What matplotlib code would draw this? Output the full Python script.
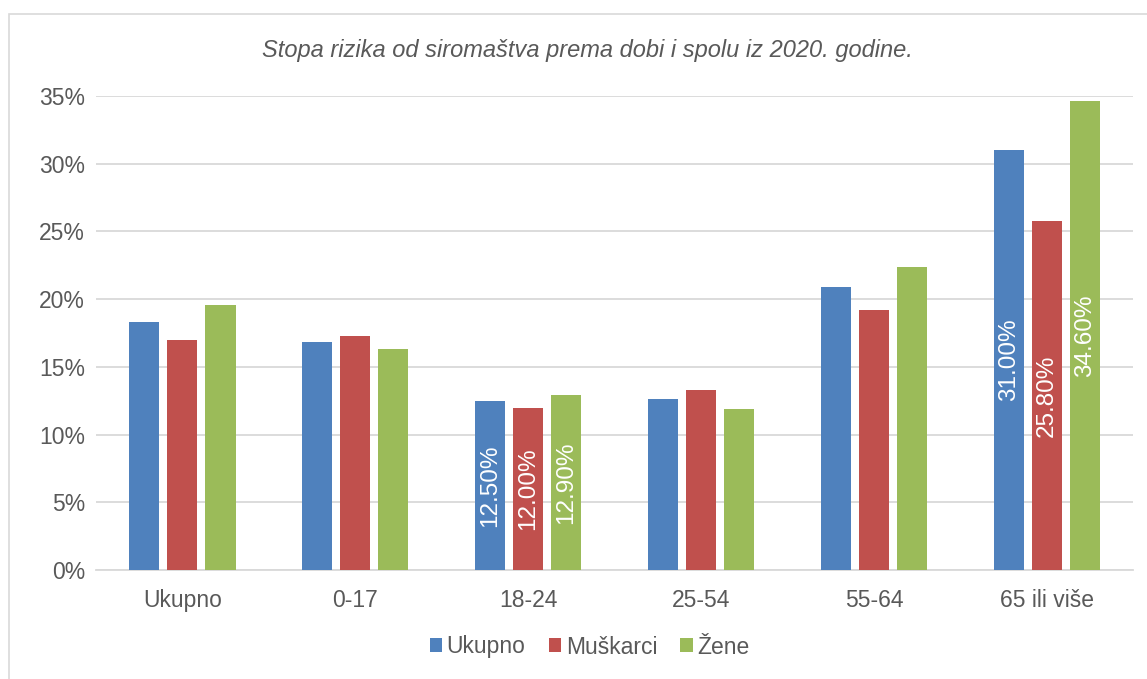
import matplotlib.pyplot as plt
import numpy as np
from matplotlib.patches import Rectangle
from matplotlib.ticker import PercentFormatter

plt.rcParams['font.family'] = ['Liberation Sans', 'DejaVu Sans']

# Data (percent)
categories = ['Ukupno', '0-17', '18-24', '25-54', '55-64', '65 ili više']
series_names = ['Ukupno', 'Muškarci', 'Žene']
ukupno = [18.3, 16.8, 12.5, 12.6, 20.9, 31.0]
muskarci = [17.0, 17.3, 12.0, 13.3, 19.2, 25.8]
zene = [19.6, 16.3, 12.9, 11.9, 22.4, 34.6]
labelled = ['18-24', '65 ili više']  # groups that carry data labels

colors = ['#4F81BD', '#C0504D', '#9BBB59']
text_col = '#595959'
grid_col = '#D9D9D9'

fig = plt.figure(figsize=(11.47, 6.79), dpi=100)
ax = fig.add_axes([0.0837, 0.1605, 0.9043, 0.6981])

# outer chart border
fig.patches.append(Rectangle((9 / 1147, -0.05), 1.2, 1 - 14 / 679 + 0.05,
                             transform=fig.transFigure, fill=False,
                             edgecolor=grid_col, linewidth=1.2))

x = np.arange(len(categories))
width = 0.174
step = 0.22

for i, (vals, name) in enumerate(zip([ukupno, muskarci, zene], series_names)):
    pos = x + (i - 1) * step
    bars = ax.bar(pos, vals, width, color=colors[i], label=name, zorder=3)
    for b, cat, v in zip(bars, categories, vals):
        if cat in labelled:
            ax.text(b.get_x() + b.get_width() / 2, v / 2, f'{v:.2f}%',
                    rotation=90, ha='center', va='center', color='white',
                    fontsize=17.5, zorder=4)

ax.set_ylim(0, 35)
ax.set_xlim(-0.5, len(categories) - 0.5)
ax.set_yticks(np.arange(0, 36, 5))
ax.yaxis.set_major_formatter(PercentFormatter(decimals=0))
ax.set_xticks(x)
ax.set_xticklabels(categories)
ax.tick_params(axis='both', length=0, labelsize=16.5, colors=text_col)
ax.tick_params(axis='x', pad=14)
ax.tick_params(axis='y', pad=8)
ax.grid(axis='y', color=grid_col, linewidth=1.3, zorder=0)
for s in ['top', 'right', 'left']:
    ax.spines[s].set_visible(False)
ax.spines['bottom'].set_color(grid_col)
ax.spines['bottom'].set_linewidth(1.3)

fig.text(0.512, 1 - 50 / 679, 'Stopa rizika od siromaštva prema dobi i spolu iz 2020. godine.',
         ha='center', va='center', fontsize=17, style='italic', color=text_col)

leg = fig.legend(loc='center', bbox_to_anchor=(0.514, 32 / 679), ncol=3, frameon=False,
                 fontsize=16.5, handlelength=0.55, handleheight=0.55,
                 handletextpad=0.2, columnspacing=1.0)
for t in leg.get_texts():
    t.set_color(text_col)

plt.savefig('out.png', dpi=100)
